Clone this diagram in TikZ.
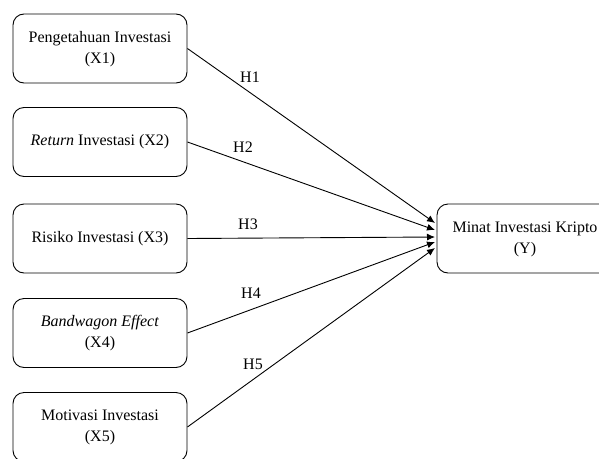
\documentclass[tikz,border=0pt]{standalone}
\usepackage{fontspec}
\setmainfont{Liberation Serif}
\usetikzlibrary{arrows.meta}
\newcommand{\twoline}[2]{\raisebox{3pt}{\begin{tabular}{@{}c@{}}#1\\#2\end{tabular}}}
\begin{document}
\begin{tikzpicture}[x=1pt,y=-1pt,
  varbox/.style={draw, line width=0.9pt, rounded corners=11pt, minimum width=174pt, minimum height=69pt, align=center, inner sep=0pt, font=\fontsize{16}{21}\selectfont},
  path/.style={line width=0.9pt, -{Latex[length=8pt,width=7pt]}},
  hlab/.style={font=\fontsize{16}{19}\selectfont, inner sep=0pt}]
\useasboundingbox (0,0) rectangle (599,458);
\node[varbox] (x1) at (100,48.5) {\twoline{Pengetahuan Investasi}{(X1)}};
\node[varbox] (x2) at (100,142) {\textit{Return} Investasi (X2)};
\node[varbox] (x3) at (100,238.5) {\raisebox{1pt}{Risiko Investasi (X3)}};
\node[varbox] (x4) at (100,333) {\twoline{\textit{Bandwagon Effect}}{(X4)}};
\node[varbox] (x5) at (100,427) {\twoline{Motivasi Investasi}{(X5)}};
\node[varbox, minimum width=176pt] (y) at (525,238.5) {\twoline{Minat Investasi Kripto}{(Y)}};
\coordinate (t1) at (435,223);
\coordinate (t2) at (435,230);
\coordinate (t3) at (435,237);
\coordinate (t4) at (435,242);
\coordinate (t5) at (435,248);
\draw[path] (x1.east) -- (t1);
\draw[path] (x2.east) -- (t2);
\draw[path] (x3.east) -- (t3);
\draw[path] (x4.east) -- (t4);
\draw[path] (x5.east) -- (t5);
\node[hlab] (h1) at (250,77) {H1};
\node[hlab] (h2) at (243,147) {H2};
\node[hlab] (h3) at (248,224) {H3};
\node[hlab] (h4) at (251,293) {H4};
\node[hlab] (h5) at (253,364) {H5};
\end{tikzpicture}
\end{document}
